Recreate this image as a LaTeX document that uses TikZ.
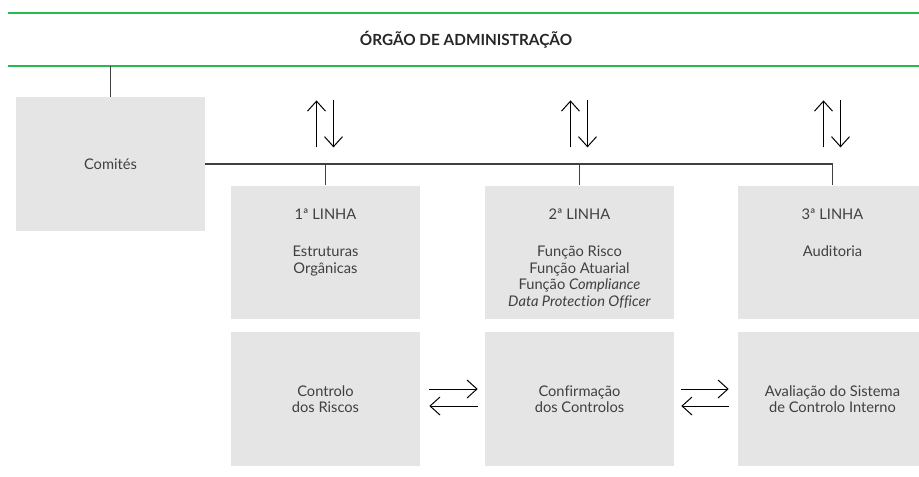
\documentclass[tikz,border=0pt]{standalone}
\usepackage{fontspec}
\setmainfont{Lato}[Ligatures=NoCommon]
\usepackage{tikz}
\usetikzlibrary{arrows.meta,positioning,calc}
\definecolor{boardgreen}{RGB}{38,186,80}
\definecolor{panelgray}{RGB}{229,229,229}
\definecolor{inkgray}{RGB}{64,64,64}

\begin{document}
\begin{tikzpicture}[x=0.75pt, y=-0.75pt,
    panel/.style={rectangle, fill=panelgray, inner sep=0pt,
                  minimum width=141.75pt, minimum height=100.25pt},
    paneltext/.style={align=center, inner sep=0pt, text=inkgray,
                      font=\fontsize{11}{12.4}\selectfont},
    link/.style={draw=inkgray, line width=0.8pt},
    arrow/.style={-{Straight Barb[length=7.5pt, width=13.5pt]}, line width=0.75pt, black},
    greenrule/.style={draw=boardgreen, line width=1pt}
]
\useasboundingbox (0,0) rectangle (919,477);
\clip (0,0) rectangle (919,477);

% Board
\draw[greenrule] (8,13) -- (919,13);
\draw[greenrule] (8,66) -- (919,66);
\coordinate (gbot) at (8,66);
\node[font=\bfseries\fontsize{11.5}{12}\selectfont, text=black!85] (orgao) at (466,40) {ÓRGÃO DE ADMINISTRAÇÃO};

% Committees
\node[panel, paneltext] (com) at (110.5,164) {Comités};

% Lines of defence
\node[panel] (l1) at (325.5,252.5) {};
\node[panel] (l2) at (579.5,252.5) {};
\node[panel] (l3) at (832.5,252.5) {};
\node[paneltext, anchor=north] (l1txt) at ($(l1.north)+(0,23)$) {1ª LINHA\\[15.5pt] Estruturas\\ Orgânicas};
\node[paneltext, anchor=north] (l2txt) at ($(l2.north)+(0,23)$) {2ª LINHA\\[15.5pt] Função Risco\\ Função Atuarial\\ Função \textit{Compliance}\\ \textit{Data Protection Officer}};
\node[paneltext, anchor=north] (l3txt) at ($(l3.north)+(0,23)$) {3ª LINHA\\[15.5pt] Auditoria};

% Roles
\node[panel, paneltext] (r1) at (325.5,399) {Controlo\\ dos Riscos};
\node[panel, paneltext] (r2) at (579.5,399) {Confirmação\\ dos Controlos};
\node[panel, paneltext] (r3) at (832.5,399) {Avaliação do Sistema\\ de Controlo Interno};

% Connections
\draw[link] (com.north) -- (com.north |- gbot);
\draw[link] (com.east) -| (l3.north);
\draw[link] (l1.north) -- (l1.north |- com.east);
\draw[link] (l2.north) -- (l2.north |- com.east);

% Reporting arrows
\draw[arrow] ($(l1.north)+(-9,-38)$) -- ++(0,-47);
\draw[arrow] ($(l1.north)+(8,-85)$) -- ++(0,47);
\draw[arrow] ($(l2.north)+(-9,-38)$) -- ++(0,-47);
\draw[arrow] ($(l2.north)+(8,-85)$) -- ++(0,47);
\draw[arrow] ($(l3.north)+(-9,-38)$) -- ++(0,-47);
\draw[arrow] ($(l3.north)+(8,-85)$) -- ++(0,47);

\draw[arrow] ($(r1.east)+(9,-10)$) -- ($(r2.west)+(-7,-10)$);
\draw[arrow] ($(r2.west)+(-7,7)$) -- ($(r1.east)+(9,7)$);
\draw[arrow] ($(r2.east)+(7,-10)$) -- ($(r3.west)+(-9,-10)$);
\draw[arrow] ($(r3.west)+(-9,7)$) -- ($(r2.east)+(7,7)$);

\end{tikzpicture}
\end{document}
